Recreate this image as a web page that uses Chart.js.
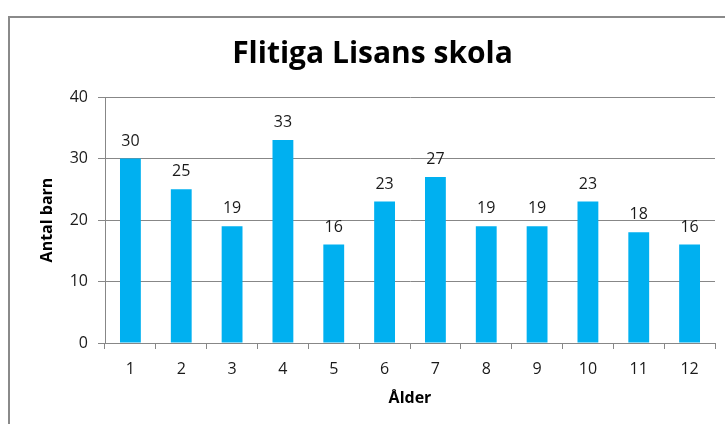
<!DOCTYPE html>
<html>
<head>
<meta charset="utf-8">
<script src="https://cdn.jsdelivr.net/npm/chart.js@4"></script>
<style>
  html, body { margin: 0; padding: 0; background: #fff; }
  #wrap { width: 725px; height: 424px; position: relative; }
</style>
</head>
<body>
<div id="wrap"><canvas id="chart"></canvas></div>
<script>
// Data
const ages = ['1', '2', '3', '4', '5', '6', '7', '8', '9', '10', '11', '12'];
const children = [30, 25, 19, 33, 16, 23, 27, 19, 19, 23, 18, 16];
const yTicks = [0, 10, 20, 30, 40];

const FONT = '"Open Sans", "DejaVu Sans", sans-serif';
const GRID = '#878787';

// outer frame (the chart box, cut off at right and bottom)
const framePlugin = {
    id: 'frame',
    beforeDraw(chart) {
        const ctx = chart.ctx;
        ctx.save();
        ctx.fillStyle = '#fff';
        ctx.fillRect(0, 0, chart.width, chart.height);
        ctx.strokeStyle = '#8a8a8a';
        ctx.lineWidth = 2;
        ctx.strokeRect(9, 17, 800, 500);
        ctx.restore();
    }
};

// value labels above bars
const valueLabels = {
    id: 'valueLabels',
    afterDatasetsDraw(chart) {
        const ctx = chart.ctx;
        const meta = chart.getDatasetMeta(0);
        ctx.save();
        ctx.font = '16px ' + FONT;
        ctx.fillStyle = '#1a1a1a';
        ctx.textAlign = 'center';
        ctx.textBaseline = 'alphabetic';
        meta.data.forEach((bar, i) => {
            ctx.fillText(String(children[i]), bar.x, bar.y - 13);
        });
        ctx.restore();
    }
};

new Chart(document.getElementById('chart'), {
    type: 'bar',
    data: {
        labels: ages,
        datasets: [{
            data: children,
            backgroundColor: '#00B0F0',
            borderWidth: 0,
            categoryPercentage: 1,
            barPercentage: 0.41
        }]
    },
    options: {
        responsive: true,
        maintainAspectRatio: false,
        animation: false,
        devicePixelRatio: 1,
        layout: { padding: { left: 30, right: 10, top: 0, bottom: 0 } },
        plugins: {
            legend: { display: false },
            tooltip: { enabled: false },
            title: {
                display: true,
                text: 'Flitiga Lisans skola',
                color: '#000',
                font: { family: FONT, size: 30, weight: 'bold' },
                padding: { top: 36, bottom: 25 }
            }
        },
        scales: {
            x: {
                offset: true,
                grid: {
                    offset: true,
                    drawOnChartArea: false,
                    drawTicks: true,
                    tickLength: 6,
                    color: GRID
                },
                border: { color: GRID },
                ticks: {
                    color: '#1a1a1a',
                    font: { family: FONT, size: 16 },
                    padding: 11,
                    maxRotation: 0
                },
                title: {
                    display: true,
                    text: 'Ålder',
                    color: '#000',
                    font: { family: FONT, size: 16, weight: 'bold' },
                    padding: { top: 16, bottom: 16 }
                },
                afterFit(scale) { scale.height = 81; }
            },
            y: {
                min: 0,
                max: 40,
                afterBuildTicks(scale) {
                    scale.ticks = yTicks.map(v => ({ value: v }));
                },
                grid: {
                    color: GRID,
                    tickLength: 7
                },
                border: { color: GRID },
                ticks: {
                    color: '#1a1a1a',
                    font: { family: FONT, size: 16 },
                    padding: 10
                },
                title: {
                    display: true,
                    text: 'Antal barn',
                    color: '#000',
                    font: { family: FONT, size: 16, weight: 'bold' },
                    padding: { top: 8, bottom: 8 }
                },
                afterFit(scale) { scale.width = 75; }
            }
        }
    },
    plugins: [framePlugin, valueLabels]
});
</script>
</body>
</html>
